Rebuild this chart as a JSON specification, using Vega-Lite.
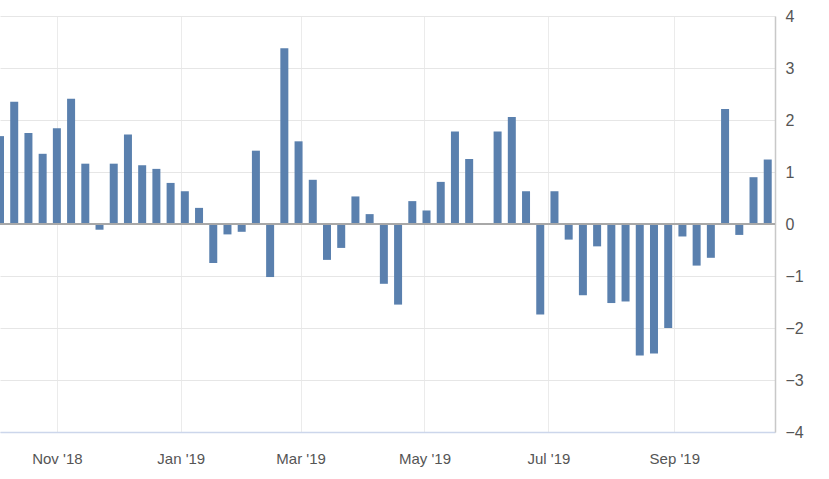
{
  "$schema": "https://vega.github.io/schema/vega-lite/v6.json",
  "width": 775,
  "height": 416,
  "autosize": {"type": "none"},
  "padding": {"left": 0, "top": 16, "right": 54, "bottom": 47},
  "background": "#ffffff",
  "config": {
    "view": {"stroke": null},
    "axis": {"labelFont": "Liberation Sans", "labelColor": "#555555"}
  },
  "data": {
    "values": [
      {"date": "2018-10-04", "value": 1.69},
      {"date": "2018-10-11", "value": 2.35},
      {"date": "2018-10-18", "value": 1.75},
      {"date": "2018-10-25", "value": 1.35},
      {"date": "2018-11-01", "value": 1.84},
      {"date": "2018-11-08", "value": 2.41},
      {"date": "2018-11-15", "value": 1.16},
      {"date": "2018-11-22", "value": -0.11},
      {"date": "2018-11-29", "value": 1.16},
      {"date": "2018-12-06", "value": 1.72},
      {"date": "2018-12-13", "value": 1.13},
      {"date": "2018-12-20", "value": 1.06},
      {"date": "2018-12-27", "value": 0.79},
      {"date": "2019-01-03", "value": 0.63},
      {"date": "2019-01-10", "value": 0.31},
      {"date": "2019-01-17", "value": -0.75},
      {"date": "2019-01-24", "value": -0.2},
      {"date": "2019-01-31", "value": -0.15},
      {"date": "2019-02-07", "value": 1.41},
      {"date": "2019-02-14", "value": -1.02},
      {"date": "2019-02-21", "value": 3.38},
      {"date": "2019-02-28", "value": 1.59},
      {"date": "2019-03-07", "value": 0.85},
      {"date": "2019-03-14", "value": -0.69},
      {"date": "2019-03-21", "value": -0.46},
      {"date": "2019-03-28", "value": 0.53},
      {"date": "2019-04-04", "value": 0.19},
      {"date": "2019-04-11", "value": -1.15},
      {"date": "2019-04-18", "value": -1.55},
      {"date": "2019-04-25", "value": 0.44},
      {"date": "2019-05-02", "value": 0.26},
      {"date": "2019-05-09", "value": 0.81},
      {"date": "2019-05-16", "value": 1.78},
      {"date": "2019-05-23", "value": 1.25},
      {"date": "2019-06-06", "value": 1.78},
      {"date": "2019-06-13", "value": 2.06},
      {"date": "2019-06-20", "value": 0.63},
      {"date": "2019-06-27", "value": -1.74},
      {"date": "2019-07-04", "value": 0.63},
      {"date": "2019-07-11", "value": -0.3},
      {"date": "2019-07-18", "value": -1.37},
      {"date": "2019-07-25", "value": -0.43},
      {"date": "2019-08-01", "value": -1.52},
      {"date": "2019-08-08", "value": -1.49},
      {"date": "2019-08-15", "value": -2.53},
      {"date": "2019-08-22", "value": -2.49},
      {"date": "2019-08-29", "value": -2.0},
      {"date": "2019-09-05", "value": -0.24},
      {"date": "2019-09-12", "value": -0.8},
      {"date": "2019-09-19", "value": -0.65},
      {"date": "2019-09-26", "value": 2.21},
      {"date": "2019-10-03", "value": -0.21},
      {"date": "2019-10-10", "value": 0.9},
      {"date": "2019-10-17", "value": 1.24}
    ]
  },
  "layer": [
    {
      "mark": {"type": "bar", "size": 8, "color": "#5a80ae", "clip": true},
      "encoding": {
        "x": {
          "field": "date",
          "type": "temporal",
          "scale": {"type": "utc", "domain": [1538611200000, 1571580000000], "nice": false, "padding": 0},
          "axis": {
            "title": null,
            "orient": "bottom",
            "values": [
              {"year": 2018, "month": 11, "date": 1, "utc": true},
              {"year": 2019, "month": 1, "date": 1, "utc": true},
              {"year": 2019, "month": 3, "date": 1, "utc": true},
              {"year": 2019, "month": 5, "date": 1, "utc": true},
              {"year": 2019, "month": 7, "date": 1, "utc": true},
              {"year": 2019, "month": 9, "date": 1, "utc": true}
            ],
            "labelExpr": "utcFormat(datum.value, \"%b '%y\")",
            "labelFontSize": 15,
            "labelPadding": 19,
            "ticks": false,
            "grid": true,
            "gridColor": "#ebebeb",
            "domain": true,
            "domainColor": "#ccd6eb",
            "domainWidth": 1.5
          }
        },
        "y": {
          "field": "value",
          "type": "quantitative",
          "scale": {"domain": [-4, 4], "nice": false, "zero": false},
          "axis": {
            "title": null,
            "orient": "right",
            "values": [-4, -3, -2, -1, 0, 1, 2, 3, 4],
            "labelFontSize": 16,
            "labelPadding": 10,
            "ticks": false,
            "grid": true,
            "gridColor": "#e6e6e6",
            "domain": true,
            "domainColor": "#c8c8c8",
            "domainWidth": 1.5
          }
        }
      }
    },
    {
      "mark": {"type": "rule", "color": "#a8a8a8", "strokeWidth": 1.5},
      "encoding": {"y": {"datum": 0}}
    }
  ]
}
